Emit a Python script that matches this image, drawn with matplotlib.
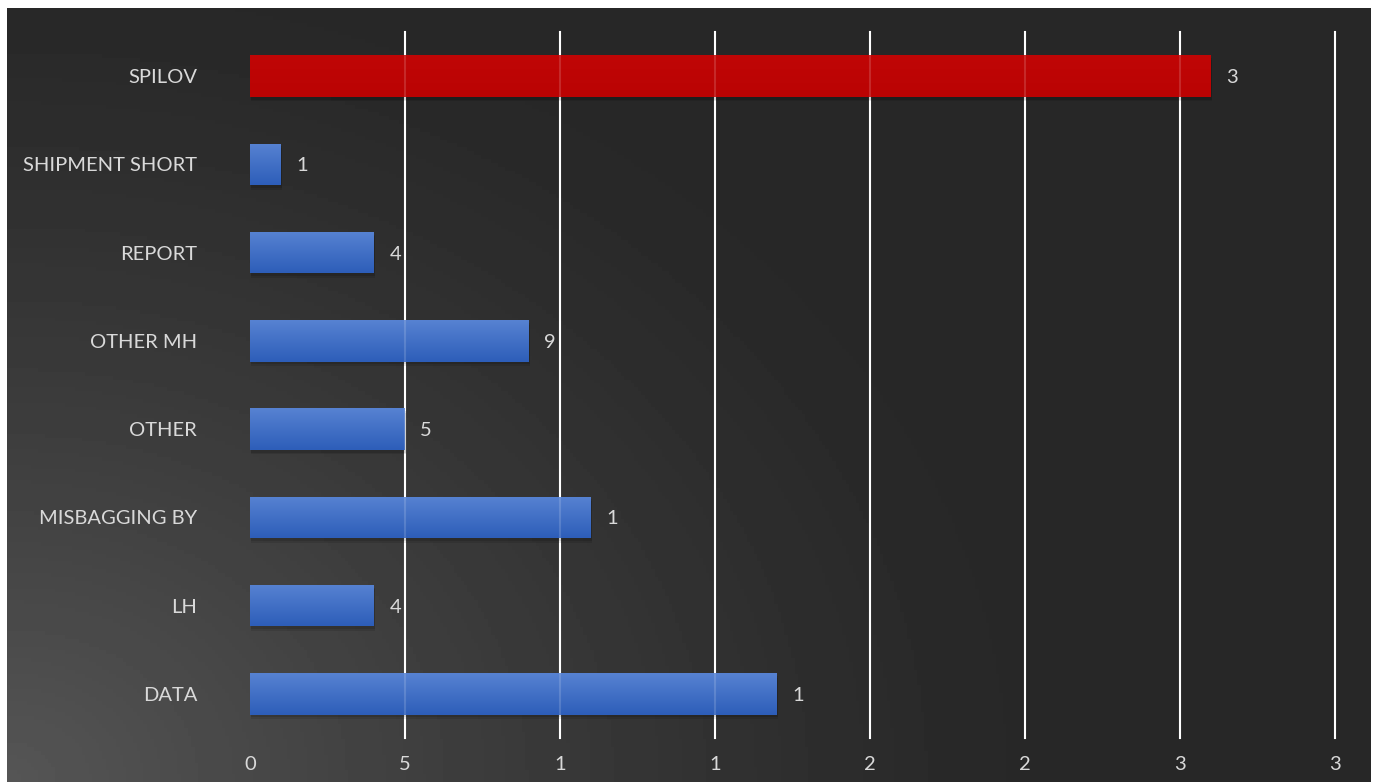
import numpy as np
import matplotlib
matplotlib.use("Agg")
import matplotlib.pyplot as plt
from matplotlib.colors import LinearSegmentedColormap

# ---- data (bottom to top) ----
categories = ["DATA", "LH", "MISBAGGING BY", "OTHER", "OTHER MH", "REPORT", "SHIPMENT SHORT", "SPILOV"]
values = [17, 4, 11, 5, 9, 4, 1, 31]
value_labels = ["1", "4", "1", "5", "9", "4", "1", "3"]
x_ticks = [0, 5, 10, 15, 20, 25, 30, 35]
x_tick_labels = ["0", "5", "1", "1", "2", "2", "3", "3"]
highlight = "SPILOV"

W, H, DPI = 1376, 782, 100
fig = plt.figure(figsize=(W / DPI, H / DPI), dpi=DPI, facecolor="white")

# background panel with gradient
bg = fig.add_axes([7 / W, 0, (1371 - 7) / W, (782 - 8) / H])
bg.set_axis_off()
ny, nx = 200, 400
yy, xx = np.mgrid[0:1:ny * 1j, 0:1:nx * 1j]  # yy=0 bottom
d = np.clip(1 - np.sqrt((xx / 0.75) ** 2 + ((yy) / 1.05) ** 2), 0, 1)
img = 0.155 + 0.18 * d ** 1.3
cmap_bg = LinearSegmentedColormap.from_list("g", ["#000000", "#ffffff"])
bg.imshow(img, cmap=cmap_bg, vmin=0, vmax=1, origin="lower", aspect="auto", extent=[0, 1, 0, 1])
bg.set_xlim(0, 1)
bg.set_ylim(0, 1)

fontfam = ["Lato", "DejaVu Sans"]
txtcol = "#d9d9d9"
fs = 14.5

ax_left, ax_right = 250 / W, 1335 / W
ax_top, ax_bottom = 1 - 32 / H, 1 - 738 / H
ax = fig.add_axes([ax_left, ax_bottom, ax_right - ax_left, ax_top - ax_bottom])
ax.patch.set_alpha(0)
for s in ax.spines.values():
    s.set_visible(False)

# gridlines (behind bars, plus a faint pass over them)
for t in x_ticks[1:]:
    ax.axvline(t, color="white", lw=1.5, zorder=1, clip_on=False)
    ax.axvline(t, color="white", lw=1.5, zorder=3, alpha=0.15, clip_on=False)

ypos = np.arange(len(categories))
bar_h = 0.47
blue_cmap = LinearSegmentedColormap.from_list("b", ["#2d5eb9", "#5782d2"])
red_cmap = LinearSegmentedColormap.from_list("r", ["#ba0303", "#c00606"])
grad = np.linspace(0, 1, 64).reshape(-1, 1)

for y, v, cat, lab in zip(ypos, values, categories, value_labels):
    # soft shadow
    for k, a in [(0.05, 0.10), (0.03, 0.12)]:
        ax.barh(y - k, v, height=bar_h, left=k * 0.6, color="black", alpha=a, zorder=1.5, lw=0)
    bar = ax.barh(y, v, height=bar_h, color="#3e6fcb", zorder=2, lw=0)[0]
    cm = red_cmap if cat == highlight else blue_cmap
    im = ax.imshow(grad, cmap=cm, origin="lower", aspect="auto",
                   extent=[0, v, y - bar_h / 2, y + bar_h / 2], zorder=2.1)
    im.set_clip_path(bar)
    ax.annotate(lab, (v, y), xytext=(11, -1), textcoords="offset points",
                ha="left", va="center", color=txtcol, fontsize=fs, family=fontfam)

ax.set_xlim(0, 35)
ax.set_ylim(-0.5, 7.5)
ax.set_yticks(ypos)
ax.set_yticklabels(categories, family=fontfam, fontsize=fs, color=txtcol)
ax.set_xticks(x_ticks)
ax.set_xticklabels(x_tick_labels, family=fontfam, fontsize=fs, color=txtcol)
ax.tick_params(axis="y", length=0, pad=38)
ax.tick_params(axis="x", length=0, pad=13)

fig.savefig("out.png", dpi=DPI, facecolor="white")
